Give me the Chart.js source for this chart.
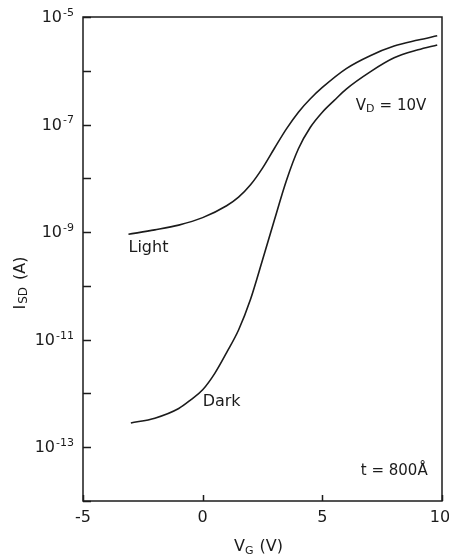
<!DOCTYPE html>
<html>
<head>
<meta charset="utf-8">
<script src="https://cdn.jsdelivr.net/npm/chart.js@4.4.0/dist/chart.umd.min.js"></script>
<style>
  html, body { margin: 0; padding: 0; background: #fff; }
  #wrap { width: 449px; height: 557px; }
</style>
</head>
<body>
<div id="wrap"><canvas id="chart" width="449" height="557"></canvas></div>
<script>
'use strict';

// gate voltage (V) vs source-drain current (A)
const lightVg = [-3.1, -2, -1, 0, 1, 1.5, 2, 2.5, 3, 3.5, 4, 4.5, 5, 6, 7, 8, 9, 9.8];
const lightIsd = [9.12e-10, 1.10e-9, 1.35e-9, 1.86e-9, 3.09e-9, 4.47e-9, 7.59e-9, 1.55e-8,
  3.63e-8, 8.32e-8, 1.70e-7, 3.02e-7, 4.90e-7, 1.10e-6, 1.91e-6, 2.88e-6, 3.72e-6, 4.47e-6];

const darkVg = [-3, -2, -1, -0.5, 0, 0.5, 1, 1.5, 2, 2.5, 3, 3.5, 4, 4.5, 5, 5.5, 6, 7, 8, 9, 9.8];
const darkIsd = [2.82e-13, 3.47e-13, 5.25e-13, 7.59e-13, 1.17e-12, 2.34e-12, 5.75e-12, 1.51e-11,
  5.62e-11, 3.02e-10, 1.70e-9, 9.12e-9, 3.55e-8, 8.91e-8, 1.70e-7, 2.82e-7, 4.57e-7, 9.55e-7,
  1.74e-6, 2.45e-6, 3.02e-6];

const xTicks = [-5, 0, 5, 10];
const xTickLabels = ['-5', '0', '5', '10'];
const yDecades = [-14, -13, -12, -11, -10, -9, -8, -7, -6, -5];
const yLabelled = [-5, -7, -9, -11, -13];

const ink = '#1b1b1b';
const family = '"DejaVu Sans", sans-serif';

function toPoints(xs, ys) {
  return xs.map((v, i) => ({ x: v, y: ys[i] }));
}

// draw text made of runs (normal / sub / superscript)
function drawRuns(ctx, runs, cx, cy, align) {
  let total = 0;
  runs.forEach((r) => {
    ctx.font = r.size + 'px ' + family;
    r.w = ctx.measureText(r.text).width;
    total += r.w + (r.gap || 0);
  });
  let x = cx - total / 2;
  if (align === 'left') x = cx;
  if (align === 'right') x = cx - total;
  runs.forEach((r) => {
    ctx.font = r.size + 'px ' + family;
    ctx.fillText(r.text, x, cy + (r.dy || 0));
    x += r.w + (r.gap || 0);
  });
}

const frameAndLabels = {
  id: 'frameAndLabels',
  afterDraw(chart) {
    const { ctx, chartArea: a } = chart;
    const x = chart.scales.x;
    const y = chart.scales.y;
    ctx.save();
    ctx.strokeStyle = ink;
    ctx.fillStyle = ink;
    ctx.lineWidth = 1.5;
    ctx.strokeRect(a.left, a.top, a.right - a.left, a.bottom - a.top);

    // inward ticks
    ctx.beginPath();
    yDecades.forEach((d) => {
      const py = Math.round(y.getPixelForValue(Math.pow(10, d))) + 0.5;
      ctx.moveTo(a.left, py);
      ctx.lineTo(a.left + 8, py);
    });
    xTicks.forEach((v) => {
      const px = Math.round(x.getPixelForValue(v)) + 0.5;
      ctx.moveTo(px, a.bottom);
      ctx.lineTo(px, a.bottom - 6);
    });
    ctx.stroke();

    ctx.textBaseline = 'middle';
    ctx.textAlign = 'left';

    // y tick labels 10^n
    yLabelled.forEach((d) => {
      const py = y.getPixelForValue(Math.pow(10, d));
      drawRuns(ctx, [
        { text: '10', size: 16, gap: 1 },
        { text: '-' + Math.abs(d), size: 11, dy: -5 },
      ], a.left - 9, py + 1, 'right');
    });

    // x tick labels
    xTicks.forEach((v, i) => {
      const px = x.getPixelForValue(v);
      drawRuns(ctx, [{ text: xTickLabels[i], size: 16 }], Math.min(px, 449 - 9), a.bottom + 17);
    });

    // axis titles
    drawRuns(ctx, [
      { text: 'V', size: 16 },
      { text: 'G', size: 11, dy: 4, gap: 6 },
      { text: '(V)', size: 16 },
    ], (a.left + a.right) / 2 - 4, a.bottom + 46);

    ctx.save();
    ctx.translate(21, 283);
    ctx.rotate(-Math.PI / 2);
    drawRuns(ctx, [
      { text: 'I', size: 16, gap: 1 },
      { text: 'SD', size: 12, dy: 3, gap: 7 },
      { text: '(A)', size: 16 },
    ], 0, 0);
    ctx.restore();

    // curve labels and conditions
    drawRuns(ctx, [{ text: 'Light', size: 16 }],
      x.getPixelForValue(-3.1), y.getPixelForValue(Math.pow(10, -9.3)), 'left');
    drawRuns(ctx, [{ text: 'Dark', size: 16 }],
      x.getPixelForValue(0), y.getPixelForValue(Math.pow(10, -12.15)), 'left');
    drawRuns(ctx, [
      { text: 'V', size: 15 },
      { text: 'D', size: 11, dy: 3, gap: 5 },
      { text: '= 10V', size: 15 },
    ], x.getPixelForValue(6.4), y.getPixelForValue(Math.pow(10, -6.66)), 'left');
    drawRuns(ctx, [{ text: 't = 800\u00c5', size: 15 }],
      x.getPixelForValue(9.4), y.getPixelForValue(Math.pow(10, -13.44)), 'right');

    ctx.restore();
  },
};

const lineStyle = {
  showLine: true,
  borderColor: ink,
  borderWidth: 1.6,
  pointRadius: 0,
  cubicInterpolationMode: 'monotone',
  fill: false,
};

const config = {
  type: 'scatter',
  data: {
    datasets: [
      { label: 'Light', data: toPoints(lightVg, lightIsd), ...lineStyle },
      { label: 'Dark', data: toPoints(darkVg, darkIsd), ...lineStyle },
    ],
  },
  options: {
    responsive: false,
    animation: false,
    layout: { padding: { left: 83, right: 7, top: 17, bottom: 56 } },
    scales: {
      x: { type: 'linear', min: -5, max: 10, display: false },
      y: { type: 'logarithmic', min: 1e-14, max: 1e-5, display: false },
    },
    plugins: {
      legend: { display: false },
      tooltip: { enabled: false },
    },
  },
  plugins: [frameAndLabels],
};

new Chart(document.getElementById('chart'), config);
</script>
</body>
</html>
